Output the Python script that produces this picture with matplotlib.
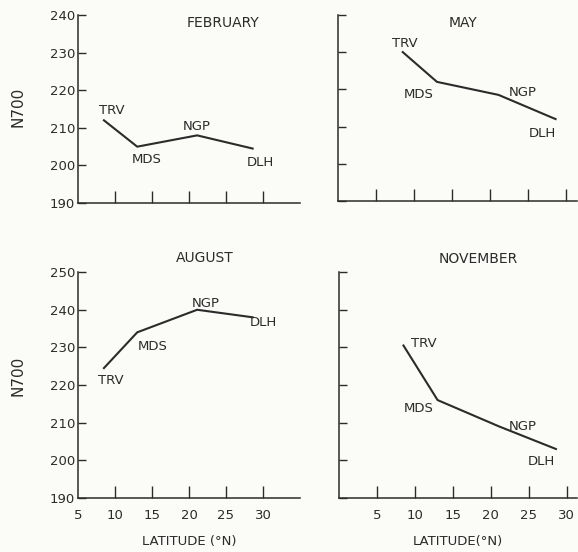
import matplotlib
matplotlib.use('Agg')
import matplotlib.pyplot as plt

# station latitudes (deg N) and N700 values
stations = ['TRV', 'MDS', 'NGP', 'DLH']
lat = [8.5, 13.0, 21.1, 28.6]
feb = [212, 205, 208, 204.5]
may = [230, 222, 218.5, 212]
aug = [224.5, 234, 240, 238]
nov = [230.5, 216, 209, 203]

INK = '#2b2b2b'
plt.rcParams['font.family'] = 'DejaVu Sans'

fig = plt.figure(figsize=(5.78, 5.52), dpi=100, facecolor='#fbfbf8')

# (left, bottom, width, height), xlim, ylim, yticks labelled?, xticks labelled?
panels = [
    ('FEBRUARY', feb, [0.135, 0.632, 0.384, 0.341], (5, 35), (190, 240), True, False,
     [(8, 10), (9, -13), (0, 9), (8, -14)], (0.385, 0.958)),
    ('MAY', may, [0.585, 0.636, 0.413, 0.337], (0, 31.4), (190, 240), False, False,
     [(2, 9), (-18, -13), (24, 2), (-13, -14)], (0.801, 0.958)),
    ('AUGUST', aug, [0.135, 0.098, 0.384, 0.409], (5, 35), (190, 250), True, True,
     [(7, -12), (15, -14), (9, 6), (11, -5)], (0.355, 0.533)),
    ('NOVEMBER', nov, [0.5865, 0.098, 0.412, 0.409], (0, 31.4), (190, 250), False, True,
     [(20, 2), (-19, -8), (24, 0), (-15, -13)], (0.827, 0.531)),
]

for title, vals, rect, xl, yl, ylab, xlab, offs, tpos in panels:
    ax = fig.add_axes(rect)
    ax.set_facecolor('none')
    ax.plot(lat, vals, color=INK, lw=1.5, solid_joinstyle='round')
    for name, x, y, off in zip(stations, lat, vals, offs):
        ax.annotate(name, (x, y), xytext=off, textcoords='offset pixels',
                    ha='center', va='center', fontsize=9.5, color=INK)
    ax.set_xlim(*xl)
    ax.set_ylim(*yl)
    for s in ('top', 'right'):
        ax.spines[s].set_visible(False)
    for s in ('left', 'bottom'):
        ax.spines[s].set_color(INK)
        ax.spines[s].set_linewidth(1.1)
    ax.set_xticks([5, 10, 15, 20, 25, 30])
    ax.set_yticks(range(yl[0], yl[1] + 1, 10))
    ax.tick_params(axis='x', direction='in', length=9, width=1.0, color=INK,
                   labelsize=9.5, labelcolor=INK, pad=8, labelbottom=xlab)
    ax.tick_params(axis='y', direction='in', length=6, width=1.0, color=INK,
                   labelsize=9.5, labelcolor=INK, pad=2, labelleft=ylab)
    if xl[0] == 5:
        # the 5 deg mark sits on the y spine in the left panels
        ax.xaxis.get_major_ticks()[0].tick1line.set_visible(False)
    if xlab:
        ax.set_xlabel('LATITUDE (°N)' if xl[0] == 5 else 'LATITUDE(°N)',
                      fontsize=9.5, color=INK, labelpad=9)
    fig.text(tpos[0], tpos[1], title, ha='center', va='center', fontsize=10, color=INK)

fig.text(0.031, 0.806, 'N700', rotation=90, ha='center', va='center', fontsize=11, color=INK)
fig.text(0.031, 0.319, 'N700', rotation=90, ha='center', va='center', fontsize=11, color=INK)

fig.savefig('out.png', dpi=100, facecolor=fig.get_facecolor())
